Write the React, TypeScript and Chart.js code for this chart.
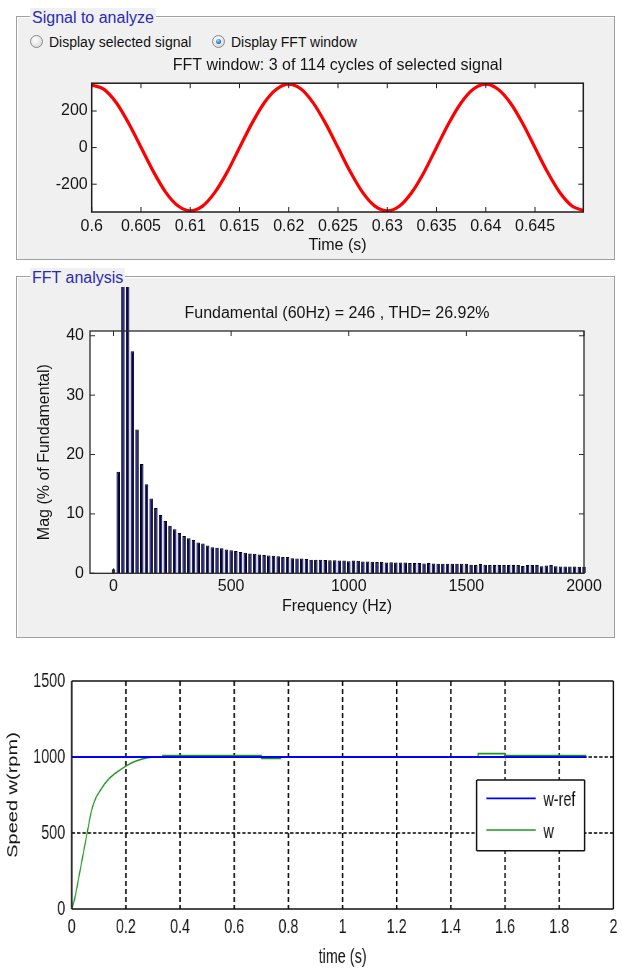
import React, { useEffect, useRef } from 'react';
import { Chart, registerables } from 'chart.js';

Chart.register(...registerables);

// ---------------- data ----------------
const SIGNAL_TIME = [
  0.6, 0.60125, 0.6025, 0.60375, 0.605, 0.60625, 0.6075, 0.60875, 0.61, 0.61125,
  0.6125, 0.61375, 0.615, 0.61625, 0.6175, 0.61875, 0.62, 0.62125, 0.6225, 0.62375,
  0.625, 0.62625, 0.6275, 0.62875, 0.63, 0.63125, 0.6325, 0.63375, 0.635, 0.63625,
  0.6375, 0.63875, 0.64, 0.64125, 0.6425, 0.64375, 0.645, 0.64625, 0.6475, 0.64875,
  0.65,
];
const SIGNAL_VALUES = [
  342, 318, 245, 133, 2, -130, -243, -318, -346, -320,
  -245, -134, -1, 131, 244, 319, 347, 320, 243, 131,
  0, -132, -245, -320, -346, -319, -244, -133, 1, 133,
  245, 320, 347, 319, 244, 132, -1, -132, -244, -319,
  -345,
];
const SIGNAL_X_TICKS = [0.6, 0.605, 0.61, 0.615, 0.62, 0.625, 0.63, 0.635, 0.64, 0.645];
const SIGNAL_Y_TICKS = [-200, 0, 200];

const FFT_FREQ = [
  0, 20, 40, 60, 80, 100, 120, 140, 160, 180,
  200, 220, 240, 260, 280, 300, 320, 340, 360, 380,
  400, 420, 440, 460, 480, 500, 520, 540, 560, 580,
  600, 620, 640, 660, 680, 700, 720, 740, 760, 780,
  800, 820, 840, 860, 880, 900, 920, 940, 960, 980,
  1000, 1020, 1040, 1060, 1080, 1100, 1120, 1140, 1160, 1180,
  1200, 1220, 1240, 1260, 1280, 1300, 1320, 1340, 1360, 1380,
  1400, 1420, 1440, 1460, 1480, 1500, 1520, 1540, 1560, 1580,
  1600, 1620, 1640, 1660, 1680, 1700, 1720, 1740, 1760, 1780,
  1800, 1820, 1840, 1860, 1880, 1900, 1920, 1940, 1960, 1980,
  2000,
];
const FFT_MAG = [
  0.7, 17.1, 62, 100, 37.4, 24.2, 18.4, 15.0, 12.6, 11.0,
  9.8, 8.8, 8.0, 7.4, 6.8, 6.3, 5.9, 5.6, 5.2, 5.0,
  4.7, 4.4, 4.3, 4.2, 4.0, 3.9, 3.75, 3.6, 3.45, 3.35,
  3.3, 3.15, 3.1, 3.0, 2.95, 2.85, 2.75, 2.75, 2.55, 2.5,
  2.5, 2.4, 2.3, 2.3, 2.3, 2.25, 2.2, 2.2, 2.15, 2.15,
  2.05, 2.15, 2.1, 2.0, 2.0, 1.95, 1.9, 1.9, 1.8, 1.85,
  1.8, 1.8, 1.8, 1.75, 1.75, 1.75, 1.65, 1.75, 1.65, 1.6,
  1.6, 1.6, 1.6, 1.6, 1.6, 1.6, 1.45, 1.4, 1.55, 1.45,
  1.4, 1.4, 1.4, 1.4, 1.4, 1.4, 1.4, 1.25, 1.4, 1.4,
  1.4, 1.2, 1.3, 1.4, 1.2, 1.15, 1.15, 1.15, 1.15, 1.1,
  1.1,
];
const FFT_X_TICKS = [0, 500, 1000, 1500, 2000];
const FFT_Y_TICKS = [0, 10, 20, 30, 40];

const SPEED_REF_T = [0, 1.9];
const SPEED_REF = [1000, 1000];
const SPEED_T = [
  0, 0.01, 0.02, 0.03, 0.04, 0.05, 0.06, 0.07, 0.075, 0.08,
  0.09, 0.1, 0.12, 0.14, 0.16, 0.18, 0.2, 0.22, 0.24, 0.26,
  0.28, 0.3, 0.335, 0.336, 0.7, 0.701, 0.77, 0.771, 1.5, 1.501,
  1.6, 1.601, 1.9,
];
const SPEED_W = [
  0, 60, 150, 245, 340, 435, 530, 625, 660, 690,
  735, 765, 820, 862, 892, 917, 940, 960, 975, 987,
  995, 1000, 1000, 1010, 1010, 990, 990, 1000, 1000, 1022,
  1022, 1010, 1010,
];
const SPEED_X_TICKS = [0, 0.2, 0.4, 0.6, 0.8, 1, 1.2, 1.4, 1.6, 1.8, 2];
const SPEED_Y_TICKS = [0, 500, 1000, 1500];

// ---------------- styles ----------------
const FONT = "'Liberation Sans', Arial, sans-serif";
const TEXT = '#151515';
const SQUISH = 0.72;

function matlabFrame(frameColor: string, frameWidth: number, tickLen: number) {
  return {
    id: 'matlabFrame',
    beforeDraw(chart: any) {
      const { ctx, chartArea: a } = chart;
      ctx.save();
      ctx.fillStyle = '#ffffff';
      ctx.fillRect(a.left, a.top, a.right - a.left, a.bottom - a.top);
      ctx.restore();
    },
    afterDatasetsDraw(chart: any) {
      const { ctx, chartArea: a, scales } = chart;
      const xs = scales.x;
      const ys = scales.y;
      ctx.save();
      ctx.strokeStyle = frameColor;
      ctx.lineWidth = 1;
      ctx.beginPath();
      xs.ticks.forEach((t: any) => {
        const px = xs.getPixelForValue(t.value);
        ctx.moveTo(px, a.bottom);
        ctx.lineTo(px, a.bottom - tickLen);
        ctx.moveTo(px, a.top);
        ctx.lineTo(px, a.top + tickLen);
      });
      ys.ticks.forEach((t: any) => {
        const py = ys.getPixelForValue(t.value);
        ctx.moveTo(a.left, py);
        ctx.lineTo(a.left + tickLen, py);
        ctx.moveTo(a.right, py);
        ctx.lineTo(a.right - tickLen, py);
      });
      ctx.stroke();
      ctx.lineWidth = frameWidth;
      ctx.strokeRect(a.left, a.top, a.right - a.left, a.bottom - a.top);
      ctx.restore();
    },
  };
}

const speedDecor = {
  id: 'speedDecor',
  beforeDraw(chart: any) {
    const { ctx, chartArea: a } = chart;
    ctx.save();
    ctx.fillStyle = '#ffffff';
    ctx.fillRect(a.left, a.top, a.right - a.left, a.bottom - a.top);
    ctx.restore();
  },
  beforeDatasetsDraw(chart: any) {
    const { ctx, chartArea: a, scales } = chart;
    const xs = scales.x;
    const ys = scales.y;
    ctx.save();
    ctx.strokeStyle = '#000000';
    ctx.lineWidth = 2;
    ctx.setLineDash([5, 3]);
    ctx.beginPath();
    xs.ticks.forEach((t: any) => {
      if (t.value <= xs.min || t.value >= xs.max) return;
      const px = xs.getPixelForValue(t.value);
      ctx.moveTo(px, a.top);
      ctx.lineTo(px, a.bottom);
    });
    ctx.stroke();
    ctx.lineWidth = 1.5;
    ctx.setLineDash([4.6, 2.8]);
    ctx.beginPath();
    ys.ticks.forEach((t: any) => {
      if (t.value <= ys.min || t.value >= ys.max) return;
      const py = ys.getPixelForValue(t.value);
      ctx.moveTo(a.left, py);
      ctx.lineTo(a.right, py);
    });
    ctx.stroke();
    ctx.restore();
  },
  afterDatasetsDraw(chart: any) {
    const { ctx, chartArea: a } = chart;
    ctx.save();
    ctx.strokeStyle = '#111111';
    // frame: horizontal edges thinner than vertical (canvas squished horizontally)
    ctx.lineWidth = 1.5;
    ctx.beginPath();
    ctx.moveTo(a.left, a.top);
    ctx.lineTo(a.right, a.top);
    ctx.moveTo(a.left, a.bottom);
    ctx.lineTo(a.right, a.bottom);
    ctx.stroke();
    ctx.lineWidth = 2.2;
    ctx.beginPath();
    ctx.moveTo(a.left, a.top);
    ctx.lineTo(a.left, a.bottom);
    ctx.moveTo(a.right, a.top);
    ctx.lineTo(a.right, a.bottom);
    ctx.stroke();

    // legend box
    const right = a.right - 40;
    const left = right - 150;
    const top = a.top + 99;
    const bottom = top + 70.7;
    ctx.fillStyle = '#ffffff';
    ctx.fillRect(left, top, right - left, bottom - top);
    ctx.strokeStyle = '#111111';
    ctx.lineWidth = 1.5;
    ctx.beginPath();
    ctx.moveTo(left, top);
    ctx.lineTo(right, top);
    ctx.moveTo(left, bottom);
    ctx.lineTo(right, bottom);
    ctx.stroke();
    ctx.lineWidth = 2.2;
    ctx.beginPath();
    ctx.moveTo(left, top);
    ctx.lineTo(left, bottom);
    ctx.moveTo(right, top);
    ctx.lineTo(right, bottom);
    ctx.stroke();
    chart.data.datasets.forEach((ds: any, i: number) => {
      const y = top + 18.3 + i * 31.7;
      ctx.strokeStyle = ds.borderColor;
      ctx.lineWidth = ds.borderWidth;
      ctx.beginPath();
      ctx.moveTo(left + 13.5, y);
      ctx.lineTo(left + 82, y);
      ctx.stroke();
      ctx.fillStyle = TEXT;
      ctx.font = `20px ${FONT}`;
      ctx.textBaseline = 'middle';
      ctx.textAlign = 'left';
      ctx.fillText(ds.label, left + 92.7, y + 2);
    });
    ctx.restore();
  },
};

function fixedTicks(values: number[]) {
  return (axis: any) => {
    axis.ticks = values.map((v) => ({ value: v }));
  };
}

function makeSignalConfig(): any {
  return {
    type: 'line',
    data: {
      datasets: [
        {
          data: SIGNAL_TIME.map((t, i) => ({ x: t, y: SIGNAL_VALUES[i] })),
          borderColor: '#ff0000',
          borderWidth: 3.2,
          pointRadius: 0,
          cubicInterpolationMode: 'monotone',
          fill: false,
        },
      ],
    },
    options: {
      responsive: false,
      animation: false,
      devicePixelRatio: 1,
      events: [],
      layout: { padding: { left: 0, right: 38.7, top: 0, bottom: 0 } },
      plugins: {
        legend: { display: false },
        tooltip: { enabled: false },
        title: {
          display: true,
          text: 'FFT window: 3 of 114 cycles of selected signal',
          color: TEXT,
          font: { family: FONT, size: 16, weight: 'normal' },
          padding: { top: 6, bottom: 8 },
          fullSize: false,
        },
      },
      scales: {
        x: {
          type: 'linear',
          min: 0.6,
          max: 0.6499,
          offset: false,
          grid: { display: false, drawTicks: false },
          border: { display: false },
          afterBuildTicks: fixedTicks(SIGNAL_X_TICKS),
          afterFit: (ax: any) => { ax.height = 46; },
          ticks: { color: TEXT, font: { family: FONT, size: 16 }, padding: 5, maxRotation: 0, autoSkip: false, callback: (v: any) => String(v) },
          title: { display: true, text: 'Time (s)', color: TEXT, font: { family: FONT, size: 16 }, padding: { top: 0, bottom: 3 } },
        },
        y: {
          type: 'linear',
          min: -352,
          max: 352,
          grid: { display: false, drawTicks: false },
          border: { display: false },
          afterBuildTicks: fixedTicks(SIGNAL_Y_TICKS),
          afterFit: (ax: any) => { ax.width = 91.7; },
          ticks: { color: TEXT, font: { family: FONT, size: 16 }, padding: 4, autoSkip: false, callback: (v: any) => String(v) },
        },
      },
    },
    plugins: [matlabFrame('#1e1e1e', 1.5, 5)],
  };
}

function makeFftConfig(): any {
  return {
    type: 'bar',
    data: {
      datasets: [
        {
          data: FFT_FREQ.map((f, i) => ({ x: f, y: FFT_MAG[i] })),
          backgroundColor: '#000070',
          borderColor: '#000000',
          borderWidth: 1,
          barPercentage: 0.75,
          categoryPercentage: 1,
          clip: { left: 5, top: 44, right: 5, bottom: 0 },
        },
      ],
    },
    options: {
      responsive: false,
      animation: false,
      devicePixelRatio: 1,
      events: [],
      layout: { padding: { left: 0, right: 38, top: 0, bottom: 0 } },
      plugins: {
        legend: { display: false },
        tooltip: { enabled: false },
        title: {
          display: true,
          text: 'Fundamental (60Hz) = 246 , THD= 26.92%',
          color: TEXT,
          font: { family: FONT, size: 16, weight: 'normal' },
          padding: { top: 23.7, bottom: 8.1 },
          fullSize: false,
        },
      },
      scales: {
        x: {
          type: 'linear',
          min: -100,
          max: 2000,
          offset: false,
          grid: { display: false, drawTicks: false },
          border: { display: false },
          afterBuildTicks: fixedTicks(FFT_X_TICKS),
          afterFit: (ax: any) => { ax.height = 64.7; },
          ticks: { color: TEXT, font: { family: FONT, size: 16 }, padding: 3.8, maxRotation: 0, autoSkip: false, callback: (v: any) => String(v) },
          title: { display: true, text: 'Frequency (Hz)', color: TEXT, font: { family: FONT, size: 16 }, padding: { top: 0, bottom: 21.7 } },
        },
        y: {
          type: 'linear',
          min: 0,
          max: 40.8,
          grid: { display: false, drawTicks: false },
          border: { display: false },
          afterBuildTicks: fixedTicks(FFT_Y_TICKS),
          afterFit: (ax: any) => { ax.width = 90; },
          ticks: { color: TEXT, font: { family: FONT, size: 16 }, padding: 6, autoSkip: false, callback: (v: any) => String(v) },
          title: { display: true, text: 'Mag (% of Fundamental)', color: TEXT, font: { family: FONT, size: 16 }, padding: { top: 35.4, bottom: 0 } },
        },
      },
    },
    plugins: [matlabFrame('#2a2a2a', 1.3, 5)],
  };
}

function makeSpeedConfig(): any {
  return {
    type: 'line',
    data: {
      datasets: [
        {
          label: 'w-ref',
          data: SPEED_REF_T.map((t, i) => ({ x: t, y: SPEED_REF[i] })),
          borderColor: '#0000ff',
          borderWidth: 1.8,
          pointRadius: 0,
          tension: 0,
          fill: false,
        },
        {
          label: 'w',
          data: SPEED_T.map((t, i) => ({ x: t, y: SPEED_W[i] })),
          borderColor: '#1e961e',
          borderWidth: 1.6,
          pointRadius: 0,
          tension: 0,
          fill: false,
        },
      ],
    },
    options: {
      responsive: false,
      animation: false,
      devicePixelRatio: 1,
      events: [],
      layout: { padding: { left: 0, right: 6.1, top: 21, bottom: 0 } },
      plugins: {
        legend: { display: false },
        tooltip: { enabled: false },
      },
      scales: {
        x: {
          type: 'linear',
          min: 0,
          max: 2,
          offset: false,
          grid: { display: false, drawTicks: false },
          border: { display: false },
          afterBuildTicks: fixedTicks(SPEED_X_TICKS),
          afterFit: (ax: any) => { ax.height = 60; },
          ticks: { color: TEXT, font: { family: FONT, size: 20 }, padding: 6.5, maxRotation: 0, autoSkip: false, callback: (v: any) => String(v) },
          title: { display: true, text: 'time (s)', color: TEXT, font: { family: FONT, size: 20 }, padding: { top: 0, bottom: 0 } },
        },
        y: {
          type: 'linear',
          min: 0,
          max: 1500,
          grid: { display: false, drawTicks: false },
          border: { display: false },
          afterBuildTicks: fixedTicks(SPEED_Y_TICKS),
          afterFit: (ax: any) => { ax.width = 99.6; },
          ticks: { color: TEXT, font: { family: FONT, size: 20 }, padding: 9, autoSkip: false, callback: (v: any) => String(v) },
          title: { display: true, text: 'Speed w(rpm)', color: TEXT, font: { family: FONT, size: 20 }, padding: { top: 6.5, bottom: 0 } },
        },
      },
    },
    plugins: [speedDecor],
  };
}

const panelStyle = (top: number, height: number): React.CSSProperties => ({
  position: 'absolute',
  left: 16,
  top,
  width: 599,
  height,
  boxSizing: 'border-box',
  border: '1px solid #a0a0a0',
  boxShadow: 'inset 1px 1px 0 #ffffff',
  background: '#f0f0f0',
});

const panelTitle = (top: number): React.CSSProperties => ({
  position: 'absolute',
  left: 30,
  top,
  height: 20,
  lineHeight: '20px',
  padding: '0 2px',
  fontSize: 16,
  color: '#2a2ab4',
  background: '#f0f0f0',
  whiteSpace: 'nowrap',
});

const radioStyle = (cx: number, cy: number): React.CSSProperties => ({
  position: 'absolute',
  left: cx - 6.5,
  top: cy - 6.5,
  width: 13,
  height: 13,
  boxSizing: 'border-box',
  borderRadius: '50%',
  border: '1px solid #8a8a8a',
  background: 'radial-gradient(circle at 40% 35%, #ffffff 0%, #e6e6e6 55%, #c8c8c8 100%)',
});

const radioLabel = (left: number, cy: number): React.CSSProperties => ({
  position: 'absolute',
  left,
  top: cy - 8,
  height: 16,
  lineHeight: '16px',
  fontSize: 14,
  color: '#111111',
  whiteSpace: 'nowrap',
});

export default function App() {
  const c1 = useRef<HTMLCanvasElement>(null);
  const c2 = useRef<HTMLCanvasElement>(null);
  const c3 = useRef<HTMLCanvasElement>(null);

  useEffect(() => {
    const charts: Chart[] = [];
    if (c1.current) charts.push(new Chart(c1.current, makeSignalConfig()));
    if (c2.current) charts.push(new Chart(c2.current, makeFftConfig()));
    if (c3.current) charts.push(new Chart(c3.current, makeSpeedConfig()));
    return () => charts.forEach((c) => c.destroy());
  }, []);

  const speedW = Math.round(622 / SQUISH);

  return (
    <div
      style={{
        position: 'absolute',
        left: 0,
        top: 0,
        width: 622,
        height: 969,
        overflow: 'hidden',
        background: '#ffffff',
        fontFamily: FONT,
      }}
    >
      {/* Panel 1 */}
      <div style={panelStyle(16, 244)} />
      <div style={panelTitle(7.5)}>Signal to analyze</div>
      <div style={radioStyle(36, 41.7)} />
      <div style={radioLabel(49, 41.5)}>Display selected signal</div>
      <div style={radioStyle(218.5, 41.7)}>
        <div
          style={{
            position: 'absolute',
            left: 3,
            top: 3,
            width: 5,
            height: 5,
            borderRadius: '50%',
            background: 'radial-gradient(circle at 40% 35%, #a8dcff 0%, #2a7fd0 55%, #12508f 100%)',
          }}
        />
      </div>
      <div style={radioLabel(231, 41.5)}>Display FFT window</div>

      {/* Panel 2 */}
      <div style={panelStyle(276, 362)} />
      <div style={panelTitle(267.7)}>FFT analysis</div>

      <canvas
        ref={c1}
        width={622}
        height={208}
        style={{ position: 'absolute', left: 0, top: 50, width: 622, height: 208 }}
      />
      <canvas
        ref={c2}
        width={622}
        height={358}
        style={{ position: 'absolute', left: 0, top: 280, width: 622, height: 358 }}
      />

      {/* Speed chart (horizontally condensed like the reference) */}
      <div
        style={{
          position: 'absolute',
          left: 0,
          top: 660,
          width: speedW,
          height: 309,
          transform: `scaleX(${SQUISH})`,
          transformOrigin: '0 0',
        }}
      >
        <canvas ref={c3} width={speedW} height={309} style={{ width: speedW, height: 309, display: 'block' }} />
      </div>
    </div>
  );
}
